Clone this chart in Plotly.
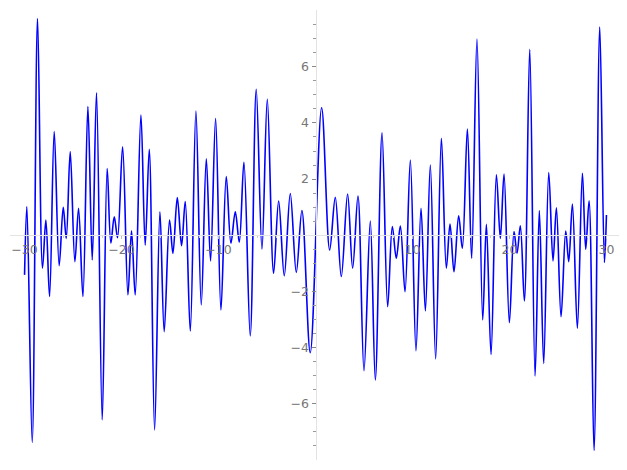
import plotly.graph_objects as go

# Extrema of the plotted curve (x, y)
x_vals = [-30.00, -29.76, -29.21, -28.66, -28.15, -27.80, -27.42, -26.94, -26.43, -26.01,
          -25.70, -25.29, -24.81, -24.43, -23.98, -23.47, -23.02, -22.58, -21.99, -21.48,
          -21.10, -20.75, -20.41, -19.89, -19.34, -18.97, -18.59, -18.00, -17.56, -17.14,
          -16.59, -16.04, -15.60, -15.05, -14.70, -14.25, -13.81, -13.43, -12.91, -12.33,
          -11.78, -11.26, -10.82, -10.30, -9.75, -9.20, -8.72, -8.27, -7.86, -7.38,
          -6.73, -6.11, -5.52, -4.97, -4.32, -3.80, -3.22, -2.60, -1.98, -1.40,
          -0.54, 0.63, 1.46, 2.04, 2.66, 3.31, 3.83, 4.38, 5.00, 5.65,
          6.17, 6.86, 7.44, 7.92, 8.33, 8.75, 9.23, 9.78, 10.36, 10.88,
          11.33, 11.84, 12.39, 12.98, 13.49, 13.87, 14.28, 14.76, 15.14, 15.66,
          16.10, 16.65, 17.24, 17.62, 18.10, 18.65, 19.06, 19.44, 19.99, 20.47,
          20.78, 21.12, 21.54, 22.09, 22.64, 23.08, 23.53, 24.05, 24.49, 24.84,
          25.32, 25.80, 26.11, 26.49, 27.00, 27.52, 27.86, 28.21, 28.72, 29.31,
          29.79, 30.00]
y_vals = [-1.41, 1.02, -7.37, 7.72, -1.17, 0.54, -2.18, 3.69, -1.08, 1.00,
          -0.11, 2.98, -0.94, 0.96, -2.18, 4.58, -0.88, 5.07, -6.57, 2.38,
          -0.28, 0.66, -0.09, 3.15, -2.12, 0.16, -2.12, 4.28, -0.35, 3.06,
          -6.93, 0.84, -3.43, 0.54, -0.64, 1.34, -0.37, 1.20, -3.41, 4.42,
          -2.48, 2.72, -0.91, 4.16, -2.66, 2.09, -0.28, 0.84, -0.25, 2.60,
          -3.58, 5.20, -0.49, 4.84, -1.35, 1.22, -1.44, 1.49, -1.32, 0.88,
          -4.18, 4.54, -0.52, 1.35, -1.47, 1.47, -1.17, 1.40, -4.82, 0.51,
          -5.15, 3.65, -2.54, 0.31, -0.82, 0.33, -2.01, 2.68, -4.11, 0.96,
          -2.69, 2.50, -4.40, 3.45, -1.17, 0.40, -1.30, 0.69, -0.46, 3.78,
          -0.82, 6.99, -3.01, 0.39, -4.24, 2.15, -0.11, 2.18, -3.11, 0.13,
          -0.64, 0.34, -2.34, 6.62, -5.01, 0.88, -4.56, 2.23, -0.91, 0.98,
          -2.90, 0.15, -0.94, 1.11, -3.31, 2.21, -0.50, 1.23, -7.66, 7.41,
          -0.97, 0.72]

x_ticks = [-30, -20, -10, 10, 20, 30]
y_ticks = [-6, -4, -2, 2, 4, 6]
x_minor = [v for v in range(-30, 31, 2) if v % 10 != 0]
y_minor = [v / 2 for v in range(-16, 17) if v % 4 != 0]

X_RANGE = [-31.5, 31.5]
Y_RANGE = [-8.0, 8.02]

fig = go.Figure()
fig.add_trace(go.Scatter(x=x_vals, y=y_vals, mode="lines",
                         line=dict(color="#0000ff", width=1.6, shape="spline", smoothing=1),
                         hoverinfo="skip", showlegend=False))

axis_font = dict(family="DejaVu Sans", size=12.5, color="#777777")
fig.update_layout(
    width=627, height=470,
    # the page body adds an 8px offset, compensated here
    margin=dict(l=2, r=14, t=2, b=18),
    paper_bgcolor="white", plot_bgcolor="white",
    xaxis=dict(range=X_RANGE, showgrid=False, zeroline=False,
               showline=True, linecolor="#e3e3e3", linewidth=1,
               anchor="free", position=(0 - Y_RANGE[0]) / (Y_RANGE[1] - Y_RANGE[0]),
               tickmode="array", tickvals=x_ticks, ticks="outside", ticklen=3,
               tickcolor="#bbbbbb", tickfont=axis_font, automargin=False,
               minor=dict(tickmode="array", tickvals=x_minor, ticks="outside",
                          ticklen=2, tickcolor="#cccccc")),
    yaxis=dict(range=Y_RANGE, showgrid=False, zeroline=False,
               showline=True, linecolor="#e3e3e3", linewidth=1,
               anchor="free", position=0.5,
               tickmode="array", tickvals=y_ticks, ticks="outside", ticklen=4,
               tickcolor="#888888", tickfont=axis_font, automargin=False,
               minor=dict(tickmode="array", tickvals=y_minor, ticks="outside",
                          ticklen=2.5, tickcolor="#999999")),
)

fig.write_html("out.html")
